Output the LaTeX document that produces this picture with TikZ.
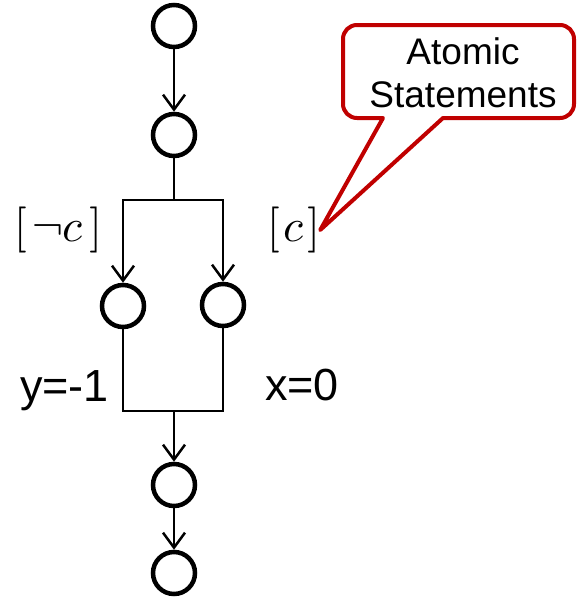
\documentclass[tikz,border=0pt]{standalone}
\usepackage{fontspec}
\usepackage{unicode-math}
\setmainfont{Liberation Sans}
\setmathfont{Latin Modern Math}
\usetikzlibrary{arrows.meta}
\definecolor{calloutred}{RGB}{192,0,0}
\tikzset{
  state/.style={circle, draw=black, line width=4.5pt, minimum size=42pt, inner sep=0pt},
  flow/.style={draw=black, line width=2.5pt},
  flowarrow/.style={flow, -{Straight Barb[length=15pt,width=22pt,line width=2.5pt]}},
  guard/.style={font=\fontsize{46}{50}\selectfont, inner sep=0pt},
  lbl/.style={font=\fontsize{45}{50}\selectfont, inner sep=0pt},
  callouttext/.style={font=\fontsize{37}{43}\selectfont, align=center, inner sep=0pt},
  calloutline/.style={draw=calloutred, line width=4pt, line join=round}
}
\begin{document}
\begin{tikzpicture}[x=1pt,y=-1pt]
\useasboundingbox (0,0) rectangle (576,597);
% states
\node[state] (n1) at (174,26) {};
\node[state] (n2) at (174,135) {};
\node[state] (n3) at (123,306) {};
\node[state] (n4) at (223,305) {};
\node[state] (n5) at (174,485) {};
\node[state] (n6) at (174,573) {};
% junctions
\coordinate (j1) at (174,200);
\coordinate (j2) at (174,411);
% connectors
\draw[flowarrow] (n1) -- (n2);
\draw[flow] (n2) -- (j1);
\draw[flowarrow] (j1) -| (n3.north);
\draw[flowarrow] (j1) -| (n4.north);
\draw[flow] (n3.south) |- (j2);
\draw[flow] (n4.south) |- (j2);
\draw[flowarrow] (j2) -- (n5);
\draw[flowarrow] (n5) -- (n6);
% labels
\node[guard] (gnc) at (58,230) {$[\mkern2mu\neg c\mkern2mu]$};
\node[guard] (gc) at (294,230) {$[\mkern1mu c\mkern1mu]$};
\node[lbl, anchor=base west] (ly) at (20,401) {y=-1};
\node[lbl, anchor=base west] (lx) at (265,400) {x=0};
% callout
\node[callouttext] (ct) at (463,73) {Atomic\\Statements};
\coordinate (tip) at (gc.east);
\draw[calloutline] (383,118) -- (tip) -- (443,118)
  -- (560,118) to[out=0,in=-90] (574,104) -- (574,39) to[out=90,in=0] (560,25)
  -- (357,25) to[out=180,in=90] (343,39) -- (343,104) to[out=-90,in=180] (357,118) -- cycle;
\end{tikzpicture}
\end{document}
